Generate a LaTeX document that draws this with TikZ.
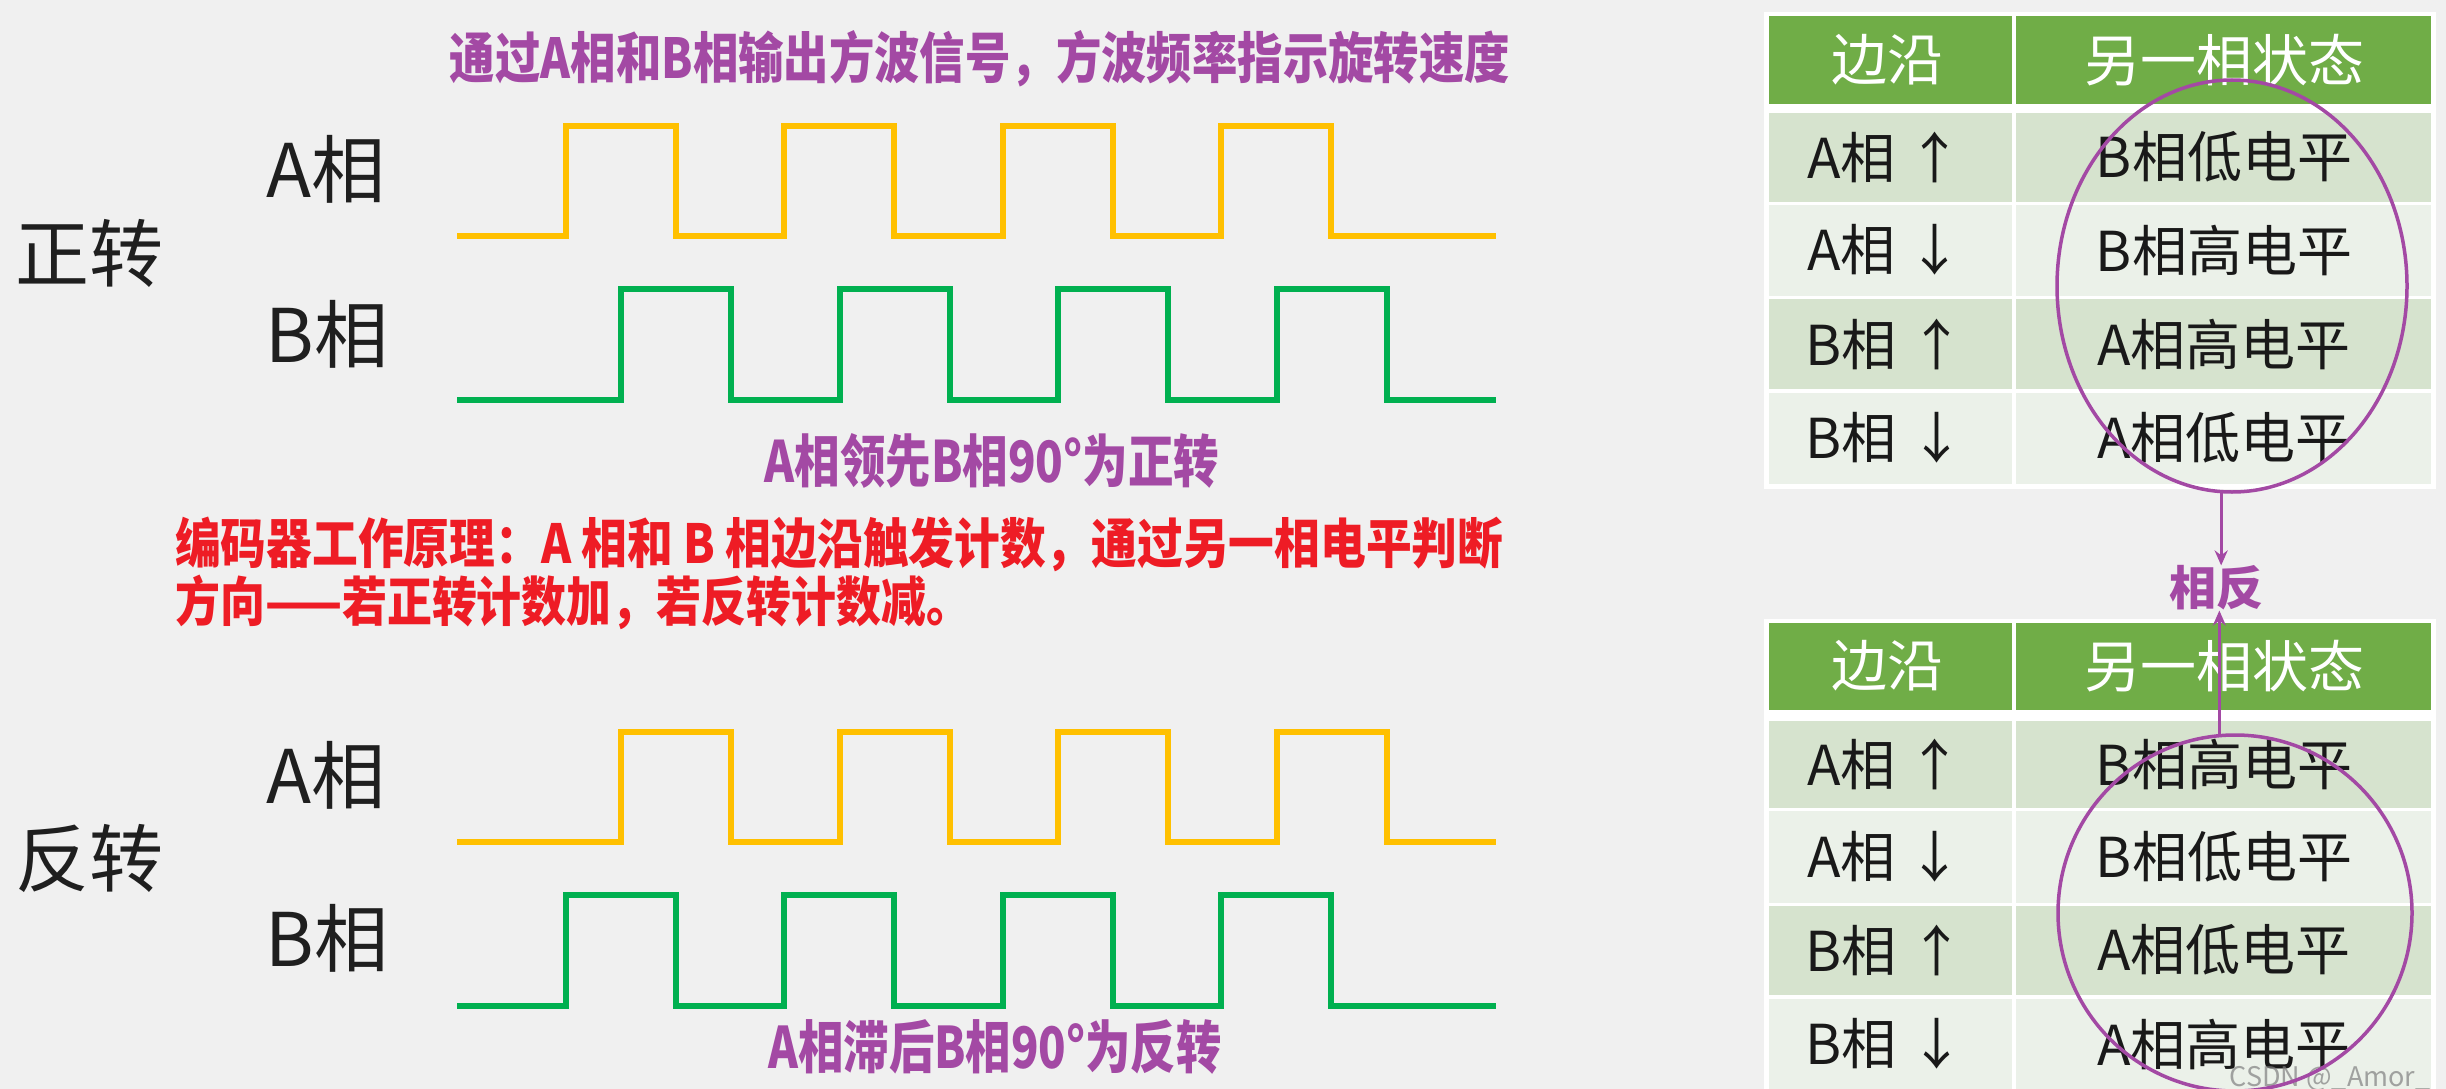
\documentclass[tikz,border=0pt]{standalone}
\usepackage{fontspec}
\usepackage{graphicx}
\usetikzlibrary{shapes.geometric,arrows.meta}
\newfontfamily\cjk{Noto Sans CJK SC}
\definecolor{bg}{HTML}{F0F0F0}
\definecolor{wy}{HTML}{FFC000}
\definecolor{wg}{HTML}{00B050}
\definecolor{pur}{HTML}{A349A4}
\definecolor{rd}{HTML}{EE1C25}
\definecolor{hdr}{HTML}{70AD47}
\definecolor{rowa}{HTML}{D6E3CE}
\definecolor{rowb}{HTML}{EBF1E9}
\tikzset{
  wave/.style={line width=6pt, line join=miter},
  lbl/.style={inner sep=0pt, text=black!88, font=\cjk\fontsize{74}{80}\selectfont},
  ptitle/.style={inner sep=0pt, text=pur, font=\cjk\bfseries\fontsize{48}{52}\selectfont},
  rtext/.style={inner sep=0pt, text=rd, anchor=west, font=\cjk\bfseries\fontsize{46}{50}\selectfont},
  hcell/.style={inner sep=0pt, text=white, font=\cjk\fontsize{56}{60}\selectfont},
  cell/.style={inner sep=0pt, text=black!90, font=\cjk\fontsize{55}{60}\selectfont},
  ring/.style={draw=pur, line width=3.5pt, ellipse, inner sep=0pt},
  arr/.style={draw=pur, line width=3pt, -{Stealth[length=15pt,width=13pt]}},
}
\begin{document}
\begin{tikzpicture}[x=1pt,y=-1pt]
\useasboundingbox (0,0) rectangle (2446,1089);
\fill[bg] (0,0) rectangle (2446,1089);

% ---- titles ----
\node[ptitle] (title) at (980,59) {\resizebox{1060pt}{48pt}{通过A相和B相输出方波信号，方波频率指示旋转速度}};
\node[ptitle] (lead) at (992,461) {\resizebox{455pt}{49pt}{A相领先B相90°为正转}};
\node[ptitle] (lag) at (995,1047) {\resizebox{453pt}{49pt}{A相滞后B相90°为反转}};
\node[rtext] (red1) at (175,544) {\resizebox{1328pt}{46.5pt}{编码器工作原理：A 相和 B 相边沿触发计数，通过另一相电平判断}};
\node[rtext] (red2) at (175,602) {\resizebox{796pt}{46.5pt}{方向——若正转计数加，若反转计数减。}};

% ---- left labels ----
\node[lbl] (fwd) at (89,253) {正转};
\node[lbl] (rev) at (89,858) {反转};
\node[lbl] (fa) at (326,169) {A相};
\node[lbl] (fb) at (327,334) {B相};
\node[lbl] (ra) at (326,775) {A相};
\node[lbl] (rb) at (327,938) {B相};

% ---- waveforms ----
\draw[wave,wy] (457,236) -- (566,236) -- (566,126) -- (676,126) -- (676,236)
  -- (784,236) -- (784,126) -- (894,126) -- (894,236)
  -- (1003,236) -- (1003,126) -- (1113,126) -- (1113,236)
  -- (1221,236) -- (1221,126) -- (1331,126) -- (1331,236) -- (1496,236);
\draw[wave,wg] (457,400) -- (621,400) -- (621,289) -- (731,289) -- (731,400)
  -- (840,400) -- (840,289) -- (950,289) -- (950,400)
  -- (1058,400) -- (1058,289) -- (1168,289) -- (1168,400)
  -- (1277,400) -- (1277,289) -- (1387,289) -- (1387,400) -- (1496,400);
\draw[wave,wy] (457,842) -- (621,842) -- (621,732) -- (731,732) -- (731,842)
  -- (840,842) -- (840,732) -- (950,732) -- (950,842)
  -- (1058,842) -- (1058,732) -- (1168,732) -- (1168,842)
  -- (1277,842) -- (1277,732) -- (1387,732) -- (1387,842) -- (1496,842);
\draw[wave,wg] (457,1006) -- (566,1006) -- (566,895) -- (676,895) -- (676,1006)
  -- (784,1006) -- (784,895) -- (894,895) -- (894,1006)
  -- (1003,1006) -- (1003,895) -- (1113,895) -- (1113,1006)
  -- (1221,1006) -- (1221,895) -- (1331,895) -- (1331,1006) -- (1496,1006);

% ---- top table ----
\fill[white] (1764,12) rectangle (2436,489);
\fill[hdr] (1769,16) rectangle (2012,104);
\fill[hdr] (2016,16) rectangle (2431,104);
\fill[rowa] (1769,113) rectangle (2012,202);
\fill[rowa] (2016,113) rectangle (2431,202);
\fill[rowb] (1769,205) rectangle (2012,296);
\fill[rowb] (2016,205) rectangle (2431,296);
\fill[rowa] (1769,299) rectangle (2012,389);
\fill[rowa] (2016,299) rectangle (2431,389);
\fill[rowb] (1769,393) rectangle (2012,484);
\fill[rowb] (2016,393) rectangle (2431,484);
\node[hcell] (h11) at (1887,60) {边沿};
\node[hcell] (h12) at (2224,60) {另一相状态};
\node[cell] (a11) at (1885,157) {A相 ↑};
\node[cell] (a12) at (2224,157) {B相低电平};
\node[cell] (a21) at (1885,250) {A相 ↓};
\node[cell] (a22) at (2224,250) {B相高电平};
\node[cell] (a31) at (1885,344) {B相 ↑};
\node[cell] (a32) at (2224,344) {A相高电平};
\node[cell] (a41) at (1885,438) {B相 ↓};
\node[cell] (a42) at (2224,438) {A相低电平};

% ---- bottom table ----
\fill[white] (1764,619) rectangle (2436,1095);
\fill[hdr] (1769,623) rectangle (2012,710);
\fill[hdr] (2016,623) rectangle (2431,710);
\fill[rowa] (1769,721) rectangle (2012,808);
\fill[rowa] (2016,721) rectangle (2431,808);
\fill[rowb] (1769,811) rectangle (2012,903);
\fill[rowb] (2016,811) rectangle (2431,903);
\fill[rowa] (1769,906) rectangle (2012,995);
\fill[rowa] (2016,906) rectangle (2431,995);
\fill[rowb] (1769,999) rectangle (2012,1095);
\fill[rowb] (2016,999) rectangle (2431,1095);
\node[hcell] (h21) at (1887,666) {边沿};
\node[hcell] (h22) at (2224,666) {另一相状态};
\node[cell] (b11) at (1885,764) {A相 ↑};
\node[cell] (b12) at (2224,764) {B相高电平};
\node[cell] (b21) at (1885,857) {A相 ↓};
\node[cell] (b22) at (2224,857) {B相低电平};
\node[cell] (b31) at (1885,950) {B相 ↑};
\node[cell] (b32) at (2224,950) {A相低电平};
\node[cell] (b41) at (1885,1044) {B相 ↓};
\node[cell] (b42) at (2224,1044) {A相高电平};

% ---- watermark ----
\node[inner sep=0pt, text=gray, opacity=0.7, font=\cjk\fontsize{27}{30}\selectfont] (wm) at (2330,1079) {CSDN @\_Amor\_};

% ---- rings and arrows ----
\node[ring, minimum width=350pt, minimum height=412pt] (e1) at (2232,286) {};
\node[ring, minimum width=354pt, minimum height=356pt] (e2) at (2235,913) {};
\node[inner sep=0pt, text=pur, font=\cjk\bfseries\fontsize{47}{50}\selectfont] (xf) at (2216,588) {相反};
\draw[arr] (e1.-93) -- (e1.-93 |- xf.north);
\draw[arr] (e2.95) -- (e2.95 |- xf.south);
\end{tikzpicture}
\end{document}
